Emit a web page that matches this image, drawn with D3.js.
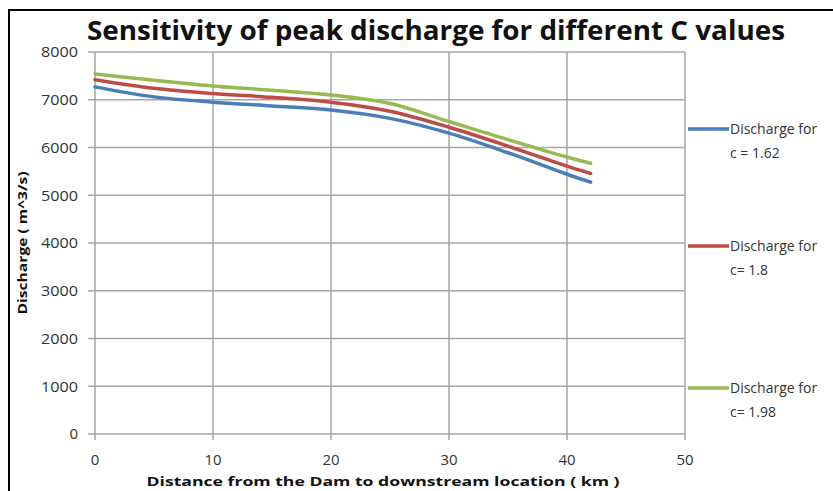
<!DOCTYPE html>
<html>
<head>
<meta charset="utf-8">
<script src="https://cdn.jsdelivr.net/npm/d3@7"></script>
<style>
  body { margin: 0; background: #fff; }
  svg { display: block; }
  text { font-family: "Open Sans", "Noto Sans", sans-serif; }
</style>
</head>
<body>
<div id="chart"></div>
<script>
// distance along the river (km) where values were read
var distance = [0, 5, 10, 15, 20, 25, 30, 35, 40, 42];

// peak discharge (m^3/s) for each C value
var discharge162 = [7270, 7060, 6950, 6870, 6785, 6610, 6300, 5890, 5440, 5275];
var discharge180 = [7420, 7240, 7130, 7050, 6950, 6760, 6425, 6030, 5610, 5455];
var discharge198 = [7540, 7410, 7290, 7200, 7100, 6920, 6545, 6165, 5800, 5670];

var seriesNames = [["Discharge for", "c = 1.62"], ["Discharge for", "c= 1.8"], ["Discharge for", "c= 1.98"]];
var seriesColors = ["#4a7ebb", "#be4b48", "#98b954"];

var xTicks = [0, 10, 20, 30, 40, 50];
var yTicks = [0, 1000, 2000, 3000, 4000, 5000, 6000, 7000, 8000];

var W = 833, H = 491;
var plotLeft = 95, plotRight = 685, plotTop = 52, plotBottom = 434;

var svg = d3.select("#chart").append("svg")
    .attr("width", W)
    .attr("height", H);

// frame (only top and left edges fall inside the picture)
svg.append("rect")
    .attr("x", 9).attr("y", 10)
    .attr("width", W + 20).attr("height", H + 20)
    .attr("fill", "none")
    .attr("stroke", "#000")
    .attr("stroke-width", 2);

var x = d3.scaleLinear().domain([0, 50]).range([plotLeft, plotRight]);
var y = d3.scaleLinear().domain([0, 8000]).range([plotBottom, plotTop]);

// grid
svg.append("g").selectAll("line").data(yTicks).enter().append("line")
    .attr("x1", plotLeft - 7).attr("x2", plotRight)
    .attr("y1", function (d) { return y(d); })
    .attr("y2", function (d) { return y(d); })
    .attr("stroke", "#a6a6a6").attr("stroke-width", 1.5);

svg.append("g").selectAll("line").data(xTicks).enter().append("line")
    .attr("x1", function (d) { return x(d); })
    .attr("x2", function (d) { return x(d); })
    .attr("y1", plotTop).attr("y2", plotBottom + 6)
    .attr("stroke", "#a6a6a6").attr("stroke-width", 1.5);

// tick labels
svg.append("g").selectAll("text").data(yTicks).enter().append("text")
    .attr("x", 78)
    .attr("y", function (d) { return y(d); })
    .attr("dy", "0.36em")
    .attr("text-anchor", "end")
    .style("font-size", "15px")
    .attr("fill", "#333")
    .attr("textLength", function (d) { return d == 0 ? null : 37; })
    .attr("lengthAdjust", "spacingAndGlyphs")
    .text(function (d) { return d; });

svg.append("g").selectAll("text").data(xTicks).enter().append("text")
    .attr("x", function (d) { return x(d); })
    .attr("y", 460)
    .attr("dy", "0.36em")
    .attr("text-anchor", "middle")
    .style("font-size", "15px")
    .attr("fill", "#333")
    .text(function (d) { return d; });

// lines
var allSeries = [discharge162, discharge180, discharge198];
var line = d3.line()
    .x(function (d, i) { return x(distance[i]); })
    .y(function (d) { return y(d); })
    .curve(d3.curveCatmullRom.alpha(0.5));

svg.append("g").selectAll("path").data(allSeries).enter().append("path")
    .attr("d", line)
    .attr("fill", "none")
    .attr("stroke", function (d, i) { return seriesColors[i]; })
    .attr("stroke-width", 3.5)
    .attr("stroke-linecap", "round");

// title
svg.append("text")
    .attr("x", 87).attr("y", 40)
    .style("font-size", "26px")
    .style("font-weight", "bold")
    .attr("fill", "#111")
    .attr("textLength", 698)
    .attr("lengthAdjust", "spacingAndGlyphs")
    .text("Sensitivity of peak discharge for different C values");

// axis titles
svg.append("text")
    .attr("x", 383).attr("y", 486)
    .attr("text-anchor", "middle")
    .style("font-size", "13px")
    .style("font-weight", "bold")
    .attr("fill", "#111")
    .attr("textLength", 473)
    .attr("lengthAdjust", "spacingAndGlyphs")
    .text("Distance  from the Dam to downstream location  ( km )");

svg.append("text")
    .attr("transform", "translate(27,243) rotate(-90)")
    .attr("text-anchor", "middle")
    .style("font-size", "13px")
    .style("font-weight", "bold")
    .attr("fill", "#111")
    .attr("textLength", 143)
    .attr("lengthAdjust", "spacingAndGlyphs")
    .text("Discharge  ( m^3/s)");

// legend
var legendY = [129, 246, 388];
var legend = svg.append("g").selectAll("g").data(seriesNames).enter().append("g")
    .attr("transform", function (d, i) { return "translate(0," + legendY[i] + ")"; });

legend.append("line")
    .attr("x1", 688).attr("x2", 729)
    .attr("y1", 0).attr("y2", 0)
    .attr("stroke", function (d, i) { return seriesColors[i]; })
    .attr("stroke-width", 3.5);

legend.append("text")
    .attr("x", 730).attr("y", 0).attr("dy", "0.36em")
    .style("font-size", "14px")
    .attr("fill", "#333")
    .text(function (d) { return d[0]; });

legend.append("text")
    .attr("x", 730).attr("y", 24).attr("dy", "0.36em")
    .style("font-size", "14px")
    .attr("fill", "#333")
    .text(function (d) { return d[1]; });
</script>
</body>
</html>
